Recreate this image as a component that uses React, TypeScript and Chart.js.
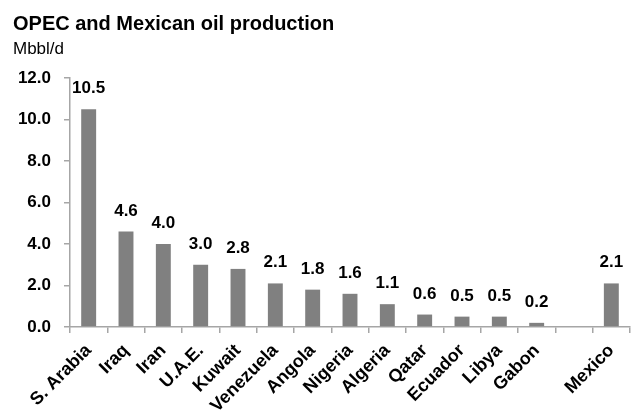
import React, { useEffect, useRef } from "react";
import { Chart, registerables } from "chart.js";

Chart.register(...registerables);

const titleText = "OPEC and Mexican oil production";
const unitText = "Mbbl/d";
const categories = [
  "S. Arabia", "Iraq", "Iran", "U.A.E.", "Kuwait", "Venezuela", "Angola",
  "Nigeria", "Algeria", "Qatar", "Ecuador", "Libya", "Gabon", "", "Mexico",
];
const production: (number | null)[] = [
  10.5, 4.6, 4.0, 3.0, 2.8, 2.1, 1.8, 1.6, 1.1, 0.6, 0.5, 0.5, 0.2, null, 2.1,
];
const yTicks = [0, 2, 4, 6, 8, 10, 12];

const FONT = "'Liberation Sans', Arial, sans-serif";

const headerPlugin = {
  id: "header",
  afterDraw(chart: any) {
    const ctx = chart.ctx;
    ctx.save();
    ctx.fillStyle = "#000";
    ctx.textAlign = "left";
    ctx.textBaseline = "alphabetic";
    ctx.font = `bold 20px ${FONT}`;
    ctx.fillText(titleText, 13, 30);
    ctx.font = `17px ${FONT}`;
    ctx.fillText(unitText, 13, 54);
    ctx.restore();
  },
};

const valueLabelPlugin = {
  id: "valueLabels",
  afterDatasetsDraw(chart: any) {
    const ctx = chart.ctx;
    const meta = chart.getDatasetMeta(0);
    const data = chart.data.datasets[0].data;
    ctx.save();
    ctx.fillStyle = "#000";
    ctx.textAlign = "center";
    ctx.textBaseline = "alphabetic";
    ctx.font = `bold 17px ${FONT}`;
    meta.data.forEach((bar: any, i: number) => {
      const v = data[i];
      if (v === null || v === undefined) return;
      ctx.fillText(Number(v).toFixed(1), bar.x, bar.y - 16);
    });
    ctx.restore();
  },
};

export default function App() {
  const canvasRef = useRef<HTMLCanvasElement | null>(null);

  useEffect(() => {
    if (!canvasRef.current) return;
    const chart = new Chart(canvasRef.current, {
      type: "bar",
      data: {
        labels: categories,
        datasets: [
          {
            data: production,
            backgroundColor: "#808080",
            borderWidth: 0,
            categoryPercentage: 1,
            barPercentage: 0.4,
          },
        ],
      },
      options: {
        animation: false,
        responsive: true,
        maintainAspectRatio: false,
        layout: { padding: { top: 78, left: 0, right: 4, bottom: 0 } },
        plugins: {
          legend: { display: false },
          tooltip: { enabled: false },
          title: { display: false },
        },
        scales: {
          x: {
            grid: {
              display: true,
              drawOnChartArea: false,
              drawTicks: true,
              tickLength: 6,
              color: "#a6a6a6",
              lineWidth: 1.5,
            },
            border: { color: "#a6a6a6", width: 1.5 },
            ticks: {
              color: "#000",
              font: { family: FONT, size: 18, weight: "bold" },
              maxRotation: 45,
              minRotation: 45,
              autoSkip: false,
              padding: 7,
            },
            afterFit(scale: any) {
              scale.height = 92;
            },
          },
          y: {
            min: 0,
            max: 12,
            afterBuildTicks(scale: any) {
              scale.ticks = yTicks.map((v) => ({ value: v }));
            },
            grid: {
              display: true,
              drawOnChartArea: false,
              drawTicks: true,
              tickLength: 6,
              color: "#a6a6a6",
              lineWidth: 1.5,
            },
            border: { color: "#a6a6a6", width: 1.5 },
            ticks: {
              color: "#000",
              font: { family: FONT, size: 17, weight: "bold" },
              padding: 13,
              callback: (v: any) => Number(v).toFixed(1),
            },
            afterFit(scale: any) {
              scale.width = 70;
            },
          },
        },
      },
      plugins: [headerPlugin, valueLabelPlugin],
    });
    return () => chart.destroy();
  }, []);

  return (
    <div
      style={{
        position: "fixed",
        left: 0,
        top: 0,
        width: 634,
        height: 419,
        background: "#fff",
      }}
    >
      <canvas ref={canvasRef} />
    </div>
  );
}
